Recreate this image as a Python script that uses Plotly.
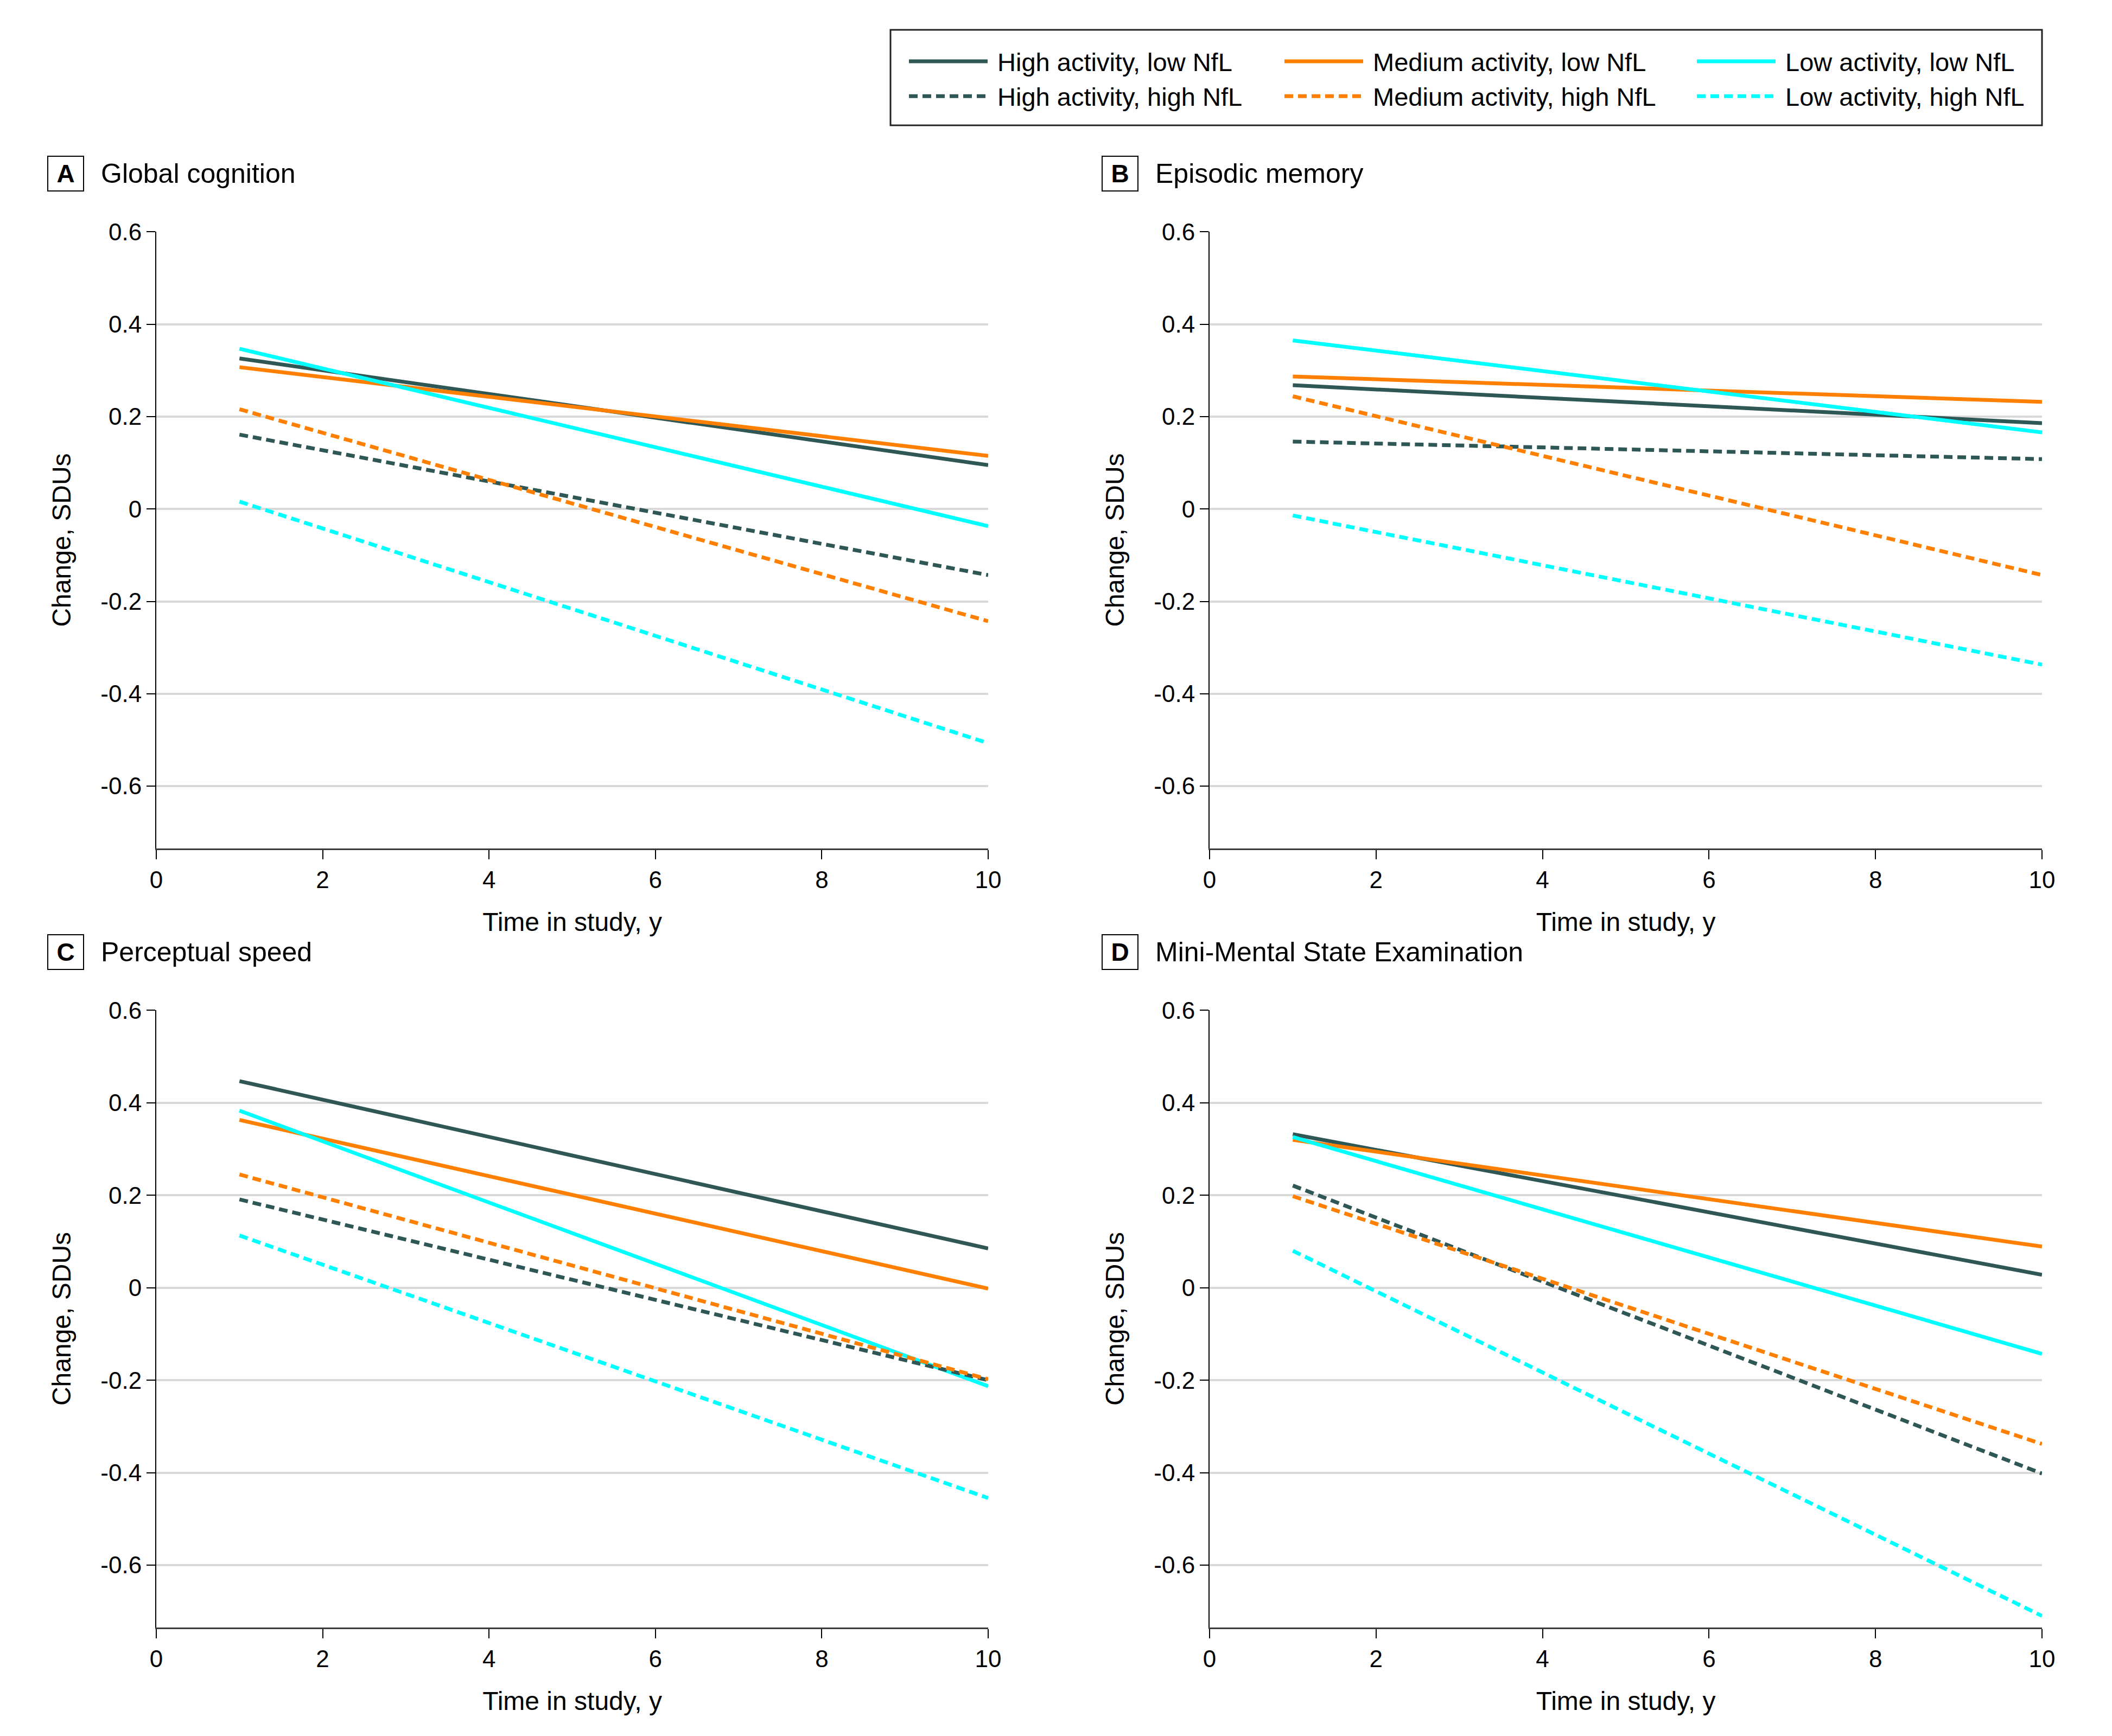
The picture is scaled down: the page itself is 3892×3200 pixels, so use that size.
import plotly.graph_objects as go

# Page geometry: the browser body keeps an 8 px margin around the figure
OFF = 8
W_FIG, H_FIG = 3892 - 2 * OFF, 3200 - 2 * OFF


def px(X):
    return (X - OFF) / W_FIG


def py(Y):
    return 1 - (Y - OFF) / H_FIG


years = [1, 10]
series_names = [
    "High activity, low NfL", "Medium activity, low NfL", "Low activity, low NfL",
    "High activity, high NfL", "Medium activity, high NfL", "Low activity, high NfL",
]
series_colors = ["#2F5755", "#FF8000", "#00FFFF", "#2F5755", "#FF8000", "#00FFFF"]
series_dash = ["solid", "solid", "solid", "16px,9px", "16px,9px", "16px,9px"]

panel_letters = ["A", "B", "C", "D"]
panel_titles = ["Global cognition", "Episodic memory", "Perceptual speed",
                "Mini-Mental State Examination"]

# [value at year 1, value at year 10] for each series, in series_names order
global_cognition = [[0.326, 0.095], [0.307, 0.115], [0.347, -0.037],
                    [0.161, -0.143], [0.216, -0.243], [0.016, -0.507]]
episodic_memory = [[0.268, 0.186], [0.287, 0.232], [0.365, 0.166],
                   [0.146, 0.108], [0.244, -0.143], [-0.014, -0.337]]
perceptual_speed = [[0.447, 0.085], [0.363, -0.002], [0.383, -0.213],
                    [0.191, -0.200], [0.245, -0.198], [0.113, -0.455]]
mmse = [[0.332, 0.028], [0.320, 0.089], [0.326, -0.143],
        [0.221, -0.402], [0.198, -0.338], [0.080, -0.710]]

x_tickvals = [0, 2, 4, 6, 8, 10]
y_tickvals = [0.6, 0.4, 0.2, 0, -0.2, -0.4, -0.6]
y_ticktext = ["0.6", "0.4", "0.2", "0", "-0.2", "-0.4", "-0.6"]

panels = [global_cognition, episodic_memory, perceptual_speed, mmse]

FONT = "Liberation Sans, Arial, sans-serif"

x_domains = [[px(288), px(1821)], [px(2229), px(3763)]]
y_domains = [[py(1564), py(427)], [py(3000), py(1862)]]

fig = go.Figure()
legend_ids = ["legend", "legend2", "legend3"]

for p, data in enumerate(panels):
    ax = "" if p == 0 else str(p + 1)
    for s, vals in enumerate(data):
        fig.add_trace(go.Scatter(
            x=years, y=vals, mode="lines", name="\u00a0" + series_names[s],
            line=dict(color=series_colors[s], width=7, dash=series_dash[s]),
            xaxis="x" + ax, yaxis="y" + ax,
            showlegend=(p == 0), legend=legend_ids[s % 3],
        ))
    r, c = divmod(p, 2)
    xa = dict(
        domain=x_domains[c], range=[0, 10], tickvals=x_tickvals,
        showgrid=False, zeroline=False, showline=True, linecolor="#3a3a3a", linewidth=3,
        ticks="outside", ticklen=17, tickwidth=2, tickcolor="#000000",
        tickfont=dict(size=44, color="#000000", family=FONT),
        title=dict(text="Time in study, y", font=dict(size=48, color="#000000", family=FONT), standoff=38),
        anchor="y" + ax, fixedrange=True, automargin=False,
    )
    ya = dict(
        domain=y_domains[r], range=[-0.735, 0.6005], tickvals=y_tickvals, ticktext=y_ticktext,
        showgrid=True, gridcolor="#d9d9d9", gridwidth=4, zeroline=False,
        showline=True, linecolor="#000000", linewidth=2,
        ticks="outside", ticklen=16, tickwidth=2, tickcolor="#000000",
        tickfont=dict(size=44, color="#000000", family=FONT),
        title=dict(text="Change, SDUs", font=dict(size=48, color="#000000", family=FONT), standoff=40),
        anchor="x" + ax, fixedrange=True, automargin=False,
    )
    fig.layout["xaxis" + ax] = xa
    fig.layout["yaxis" + ax] = ya

annotations = []
label_boxes_x = [87, 2030]
title_x = [184, 2127]
title_y = [320, 1755]
for p in range(4):
    r, c = divmod(p, 2)
    annotations.append(dict(
        text="<b>" + panel_letters[p] + "</b>", xref="paper", yref="paper",
        x=px(label_boxes_x[c]), y=py(title_y[r]), xanchor="left", yanchor="middle",
        showarrow=False, width=64, height=62, align="center", valign="middle",
        bordercolor="#000000", borderwidth=2, borderpad=0,
        font=dict(size=46, color="#000000", family=FONT),
    ))
    annotations.append(dict(
        text=panel_titles[p], xref="paper", yref="paper",
        x=px(title_x[c]), y=py(title_y[r]), xanchor="left", yanchor="middle",
        showarrow=False, font=dict(size=50, color="#000000", family=FONT),
    ))

legend_x = [1670, 2362, 3122]
legend_common = dict(
    orientation="v", yanchor="top", xanchor="left", y=py(76),
    bgcolor="rgba(0,0,0,0)", borderwidth=0, itemwidth=145, tracegroupgap=0,
    font=dict(size=47, color="#000000", family=FONT),
)
for i, lid in enumerate(legend_ids):
    fig.layout[lid] = dict(x=px(legend_x[i]), **legend_common)

fig.update_layout(
    width=W_FIG, height=H_FIG,
    margin=dict(l=0, r=0, t=0, b=0, autoexpand=False),
    paper_bgcolor="#ffffff", plot_bgcolor="#ffffff",
    font=dict(family=FONT, color="#000000"),
    annotations=annotations,
    shapes=[dict(type="rect", xref="paper", yref="paper",
                 x0=px(1641), x1=px(3763), y0=py(231), y1=py(55),
                 line=dict(color="#222222", width=3))],
)

fig.write_html("out.html")
